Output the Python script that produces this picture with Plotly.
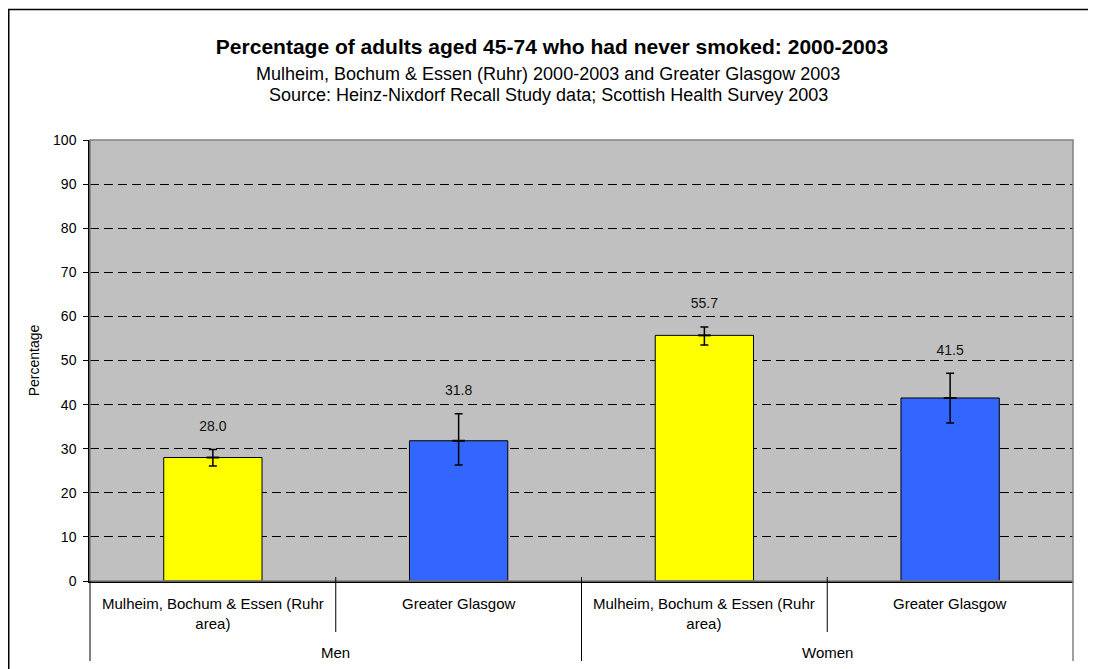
import plotly.graph_objects as go

# ---- data ----
groups = ["Men", "Men", "Women", "Women"]
areas = ["Mulheim, Bochum & Essen (Ruhr<br>area)", "Greater Glasgow",
         "Mulheim, Bochum & Essen (Ruhr<br>area)", "Greater Glasgow"]
values = [28.0, 31.8, 55.7, 41.5]
err_plus = [1.8, 6.1, 1.9, 5.6]
err_minus = [1.9, 5.5, 2.2, 5.7]
bar_colors = ["#FFFF00", "#3366FF", "#FFFF00", "#3366FF"]
labels = [f"{v:.1f}" for v in values]

title = "Percentage of adults aged 45-74 who had never smoked: 2000-2003"
sub1 = "Mulheim, Bochum & Essen (Ruhr) 2000-2003 and Greater Glasgow 2003"
sub2 = "Source: Heinz-Nixdorf Recall Study data; Scottish Health Survey 2003"

# ---- layout constants (page pixels; the page body adds an 8px offset) ----
OFF = 8
W, H = 1096 - OFF, 669 - OFF
ML, MR, MT, MB = 90 - OFF, 23, 140 - OFF, 88
PW, PH = W - ML - MR, H - MT - MB
FONT = "Arial, Liberation Sans, sans-serif"


def py(ypage):  # page pixel row -> paper y
    return (H - MB - (ypage - OFF)) / PH


def px(xpage):  # page pixel column -> paper x
    return ((xpage - OFF) - ML) / PW


fig = go.Figure()
fig.add_trace(go.Bar(
    x=[groups, areas], y=values,
    marker=dict(color=bar_colors, line=dict(color="black", width=1)),
    error_y=dict(type="data", symmetric=False, array=err_plus, arrayminus=err_minus,
                 color="black", thickness=1.5, width=4),
    width=0.4, showlegend=False, hoverinfo="y",
))
# centre cap of the split error bars (at the bar value)
fig.add_trace(go.Scatter(
    x=[groups, areas], y=values, mode="markers",
    marker=dict(symbol="line-ew", size=9, line=dict(color="black", width=2)),
    showlegend=False, hoverinfo="skip",
))
# value labels above error bars
fig.add_trace(go.Scatter(
    x=[groups, areas], y=[v + e + 22 * 100 / PH for v, e in zip(values, err_plus)],
    mode="text", text=labels, textposition="middle center",
    textfont=dict(family=FONT, size=14, color="#111111"),
    showlegend=False, hoverinfo="skip",
))

shapes = []
# plot-area border
shapes.append(dict(type="rect", xref="paper", yref="paper", x0=0, x1=1, y0=0, y1=1,
                   line=dict(color="#808080", width=1.5), layer="above"))
n = len(values)
# category separators
for k in range(1, n):
    x = k / n
    is_group = groups[k] != groups[k - 1]
    shapes.append(dict(type="line", xref="paper", yref="paper", x0=x, x1=x,
                       y0=4 / PH, y1=py(661 if is_group else 632),
                       line=dict(color="black", width=1)))
# outer edges of category axis
shapes.append(dict(type="line", xref="paper", yref="paper", x0=0, x1=0,
                   y0=0, y1=py(661), line=dict(color="black", width=1)))
shapes.append(dict(type="line", xref="paper", yref="paper", x0=1, x1=1,
                   y0=0, y1=py(661), line=dict(color="#808080", width=1.5)))
# chart outer border
shapes.append(dict(type="rect", xref="paper", yref="paper", x0=px(8.75), x1=px(1110),
                   y0=py(700), y1=py(9.5), line=dict(color="black", width=1.5)))

annotations = [
    dict(text=sub1, xref="paper", yref="paper", x=px(548), y=py(74), showarrow=False,
         font=dict(family=FONT, size=18, color="black"), xanchor="center", yanchor="middle"),
    dict(text=sub2, xref="paper", yref="paper", x=px(548), y=py(95), showarrow=False,
         font=dict(family=FONT, size=18, color="black"), xanchor="center", yanchor="middle"),
]
# category labels (inner level) and group labels (outer level)
for i, a in enumerate(areas):
    annotations.append(dict(text=a, xref="paper", yref="paper", x=(i + 0.5) / n, y=py(593),
                            showarrow=False, xanchor="center", yanchor="top",
                            font=dict(family=FONT, size=15, color="black")))
for g in dict.fromkeys(groups):
    idx = [i for i, gg in enumerate(groups) if gg == g]
    xc = (min(idx) + max(idx) + 1) / 2 / n
    annotations.append(dict(text=g, xref="paper", yref="paper", x=xc, y=py(652),
                            showarrow=False, xanchor="center", yanchor="middle",
                            font=dict(family=FONT, size=15, color="black")))

fig.update_layout(
    width=W, height=H,
    margin=dict(l=ML, r=MR, t=MT, b=MB),
    paper_bgcolor="white", plot_bgcolor="#C0C0C0",
    font=dict(family=FONT, size=14, color="black"),
    title=dict(text=f"<b>{title}</b>", x=0.5, xanchor="center", xref="container",
               y=1 - (47 - OFF) / H, yref="container", yanchor="middle",
               font=dict(family=FONT, size=21, color="black")),
    shapes=shapes, annotations=annotations,
    xaxis=dict(type="multicategory", showgrid=False, ticks="", showdividers=False,
               showticklabels=False,
               showline=True, linecolor="black", linewidth=1.5),
    yaxis=dict(range=[0, 100], dtick=10, showgrid=True, gridcolor="black",
               griddash="9px,5px", gridwidth=1, zeroline=False,
               showline=True, linecolor="black", linewidth=1.5,
               ticks="outside", ticklen=5, tickcolor="black", ticklabelstandoff=4,
               tickfont=dict(family=FONT, size=14, color="black"),
               title=dict(text="Percentage", font=dict(family=FONT, size=14, color="black"),
                          standoff=10)),
)

fig.write_html("out.html")
